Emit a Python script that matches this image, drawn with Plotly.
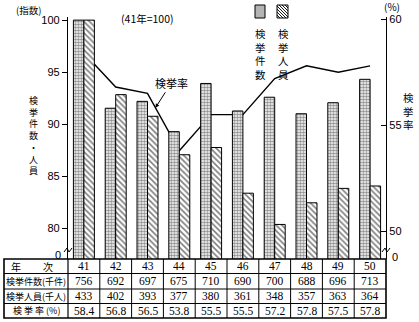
import plotly.graph_objects as go

# ---------------- data ----------------
years = ["41", "42", "43", "44", "45", "46", "47", "48", "49", "50"]
cases = [756, 692, 697, 675, 710, 690, 700, 688, 696, 713]        # 検挙件数(千件)
persons = [433, 402, 393, 377, 380, 361, 348, 357, 363, 364]      # 検挙人員(千人)
rate = [58.4, 56.8, 56.5, 53.8, 55.5, 55.5, 57.2, 57.8, 57.5, 57.8]  # 検挙率(%)
rate_text = ["58.4", "56.8", "56.5", "53.8", "55.5", "55.5", "57.2", "57.8", "57.5", "57.8"]

left_ticks = [80, 85, 90, 95, 100]
right_ticks = [50, 55, 60]
row_labels = ["検挙件数(千件)", "検挙人員(千人)", "検 挙 率 (%)"]

cases_idx = [c / cases[0] * 100 for c in cases]
persons_idx = [p / persons[0] * 100 for p in persons]

# ---------------- geometry helpers (pixel -> paper) ----------------
W, H = 419, 322
L, R, T, B = 68, 386, 17, 259
PW, PH = R - L, B - T


def px(x):
    return (x - L) / PW


def py(y):
    return (B - y) / PH


JP = "Noto Sans CJK JP"
SERIF = "Liberation Serif"
SANS = "Liberation Sans"

fig = go.Figure()

# rate line (primary y, drawn beneath bars)
fig.add_trace(go.Scatter(
    x=years, y=rate, mode="lines", yaxis="y", xaxis="x",
    line=dict(color="black", width=1.4), showlegend=False, hoverinfo="skip"))

# bars (index axis on the left)
fig.add_trace(go.Bar(
    x=years, y=cases_idx, yaxis="y2", xaxis="x", showlegend=False,
    marker=dict(color="white", line=dict(color="black", width=1),
                pattern=dict(shape=".", fgcolor="#222222", bgcolor="white",
                             size=3, solidity=0.6))))
fig.add_trace(go.Bar(
    x=years, y=persons_idx, yaxis="y2", xaxis="x", showlegend=False,
    marker=dict(color="white", line=dict(color="black", width=1),
                pattern=dict(shape="\\", fgcolor="black", bgcolor="white",
                             size=4, solidity=0.4))))

shapes = []
ann = []


def text(x, y, s, size=11, font=JP, xanchor="center", yanchor="middle", xref="paper"):
    ann.append(dict(x=x, y=y, xref=xref, yref="paper", text=s, showarrow=False,
                    font=dict(family=font, size=size, color="black"),
                    xanchor=xanchor, yanchor=yanchor))


def vtext(xp, ytop, s, size=11):
    ann.append(dict(x=px(xp), y=py(ytop), xref="paper", yref="paper",
                    text="<br>".join(s), showarrow=False, align="center",
                    font=dict(family=JP, size=size, color="black"),
                    xanchor="center", yanchor="top"))


# ---------------- table ----------------
rows_y = [259, 273.5, 289, 303.5, 318]
tl = px(4)
shapes.append(dict(type="rect", xref="paper", yref="paper", x0=tl, x1=1,
                   y0=py(rows_y[-1]), y1=py(rows_y[0]), line=dict(color="black", width=1.6)))
for yy in rows_y[1:-1]:
    shapes.append(dict(type="line", xref="paper", yref="paper", x0=tl, x1=1,
                       y0=py(yy), y1=py(yy), line=dict(color="black", width=1)))
for k in range(0, 10):
    shapes.append(dict(type="line", xref="paper", yref="paper", x0=k / 10, x1=k / 10,
                       y0=py(rows_y[-1]), y1=py(rows_y[0]),
                       line=dict(color="black", width=1.2 if k == 0 else 1)))

row_c = [(rows_y[i] + rows_y[i + 1]) / 2 for i in range(4)]
text(px(16), py(row_c[0]), "年", size=10)
text(px(48), py(row_c[0]), "次", size=10)
for i, lab in enumerate(row_labels):
    text(px(36), py(row_c[i + 1]), lab, size=9)
for i, yr in enumerate(years):
    xc = (i + 0.5) / 10
    text(xc, py(row_c[0]), yr, size=11.5, font=SERIF)
    text(xc, py(row_c[1]), str(cases[i]), size=11.5, font=SERIF)
    text(xc, py(row_c[2]), str(persons[i]), size=11.5, font=SERIF)
    text(xc, py(row_c[3]), rate_text[i], size=11.5, font=SERIF)

# ---------------- axis annotations ----------------
text(px(43), py(1), "(指数)", size=9.5, yanchor="top", xanchor="right")
text(px(392), py(6), "(%)", size=10)
text(px(147), py(19), "(41年=100)", size=10.5)
vtext(33, 92, "検挙件数・人員", size=9)
vtext(408, 88, "検挙率", size=10.5)

# zero marks with axis breaks
text(px(63), py(255), "0", size=11, font=SANS, xanchor="right")
text(px(390), py(257), "0", size=11, font=SANS, xanchor="left")
for xb, yb in [(68, 250), (386, 250)]:
    path = "M {} {} L {} {} L {} {} L {} {}".format(
        px(xb - 4), py(yb + 2), px(xb - 1), py(yb - 2), px(xb + 1), py(yb + 2), px(xb + 4), py(yb - 2))
    shapes.append(dict(type="path", xref="paper", yref="paper", path=path,
                       line=dict(color="black", width=1)))

# ---------------- legend ----------------
shapes.append(dict(type="rect", xref="paper", yref="paper", x0=px(255), x1=px(265),
                   y0=py(18), y1=py(5), fillcolor="#b4b4b4", line=dict(color="black", width=1)))
hx0, hx1, hy0, hy1 = 277, 288, 5, 18
segs = []
d = -(hy1 - hy0)
while d < (hx1 - hx0):
    xa, ya = hx0 + d, hy0
    xb, yb = hx0 + d + (hy1 - hy0), hy1
    if xa < hx0:
        ya = hy0 + (hx0 - xa)
        xa = hx0
    if xb > hx1:
        yb = hy1 - (xb - hx1)
        xb = hx1
    if xb > xa:
        segs.append("M {} {} L {} {}".format(px(xa), py(ya), px(xb), py(yb)))
    d += 3
shapes.append(dict(type="path", xref="paper", yref="paper", path=" ".join(segs),
                   line=dict(color="black", width=0.9)))
shapes.append(dict(type="rect", xref="paper", yref="paper", x0=px(hx0), x1=px(hx1),
                   y0=py(hy1), y1=py(hy0), line=dict(color="black", width=1)))
vtext(260, 24, "検挙件数", size=10.5)
vtext(283, 24, "検挙人員", size=10.5)

# line label with arrow
i0 = 2
frac = 0.25
ly = rate[i0] + (rate[i0 + 1] - rate[i0]) * frac
ann.append(dict(x=i0 + frac, y=ly, xref="x", yref="y", text="検挙率", showarrow=True,
                arrowhead=2, arrowsize=0.8, arrowwidth=1, arrowcolor="black",
                ax=16, ay=-25, font=dict(family=JP, size=11, color="black")))

fig.update_layout(
    width=W, height=H,
    margin=dict(l=L, r=W - R, t=T, b=H - B, pad=0),
    paper_bgcolor="white", plot_bgcolor="white",
    barmode="group", bargap=0.34, bargroupgap=0,
    showlegend=False,
    xaxis=dict(type="category", range=[-0.5, 9.5], showticklabels=False, ticks="",
               showgrid=False, zeroline=False, showline=False, fixedrange=True),
    yaxis=dict(side="right", range=[48.7, 60.1], tickvals=right_ticks, ticks="inside",
               ticklen=5, tickcolor="black", showline=True, linecolor="black", linewidth=1.3,
               showgrid=False, zeroline=False, tickfont=dict(family=SANS, size=11, color="black")),
    yaxis2=dict(overlaying="y", side="left", range=[77.05, 100.3], tickvals=left_ticks,
                ticks="outside", ticklen=5, tickcolor="black", showline=True, linecolor="black",
                linewidth=1.3, showgrid=False, zeroline=False,
                tickfont=dict(family=SANS, size=11, color="black")),
    shapes=shapes, annotations=ann,
)

fig.write_html("out.html")
